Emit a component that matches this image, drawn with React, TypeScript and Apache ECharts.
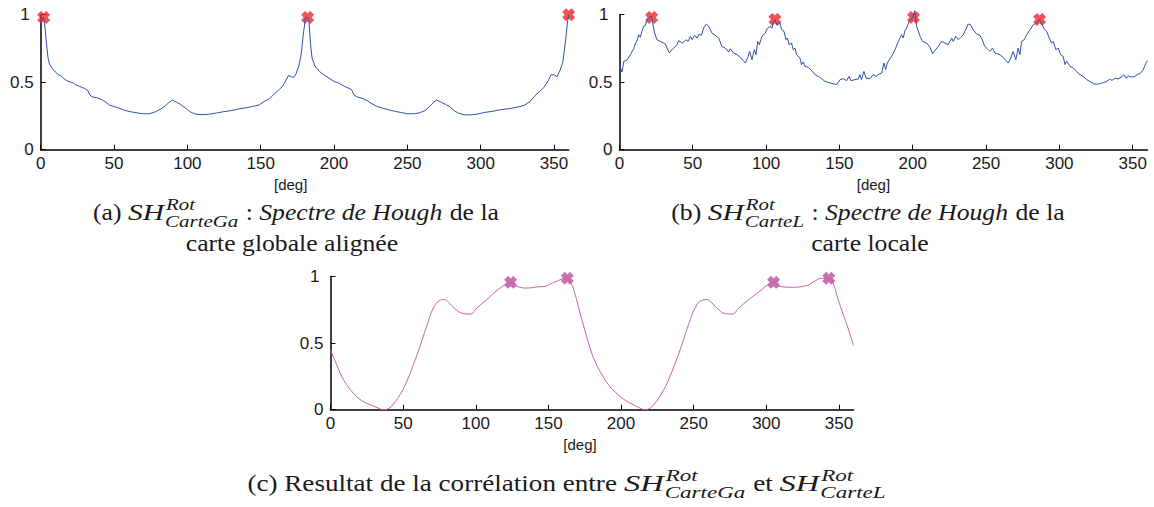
import React, { useEffect, useRef } from "react";
import * as echarts from "echarts";

// ---------- data ----------
const ticksX = [0, 50, 100, 150, 200, 250, 300, 350];

// (a) Hough spectrum of the aligned global map
const degA = [0, 2, 3, 4, 5, 6, 8, 10, 12, 14, 16, 18, 20, 22, 24, 26, 28, 30, 32, 33.5, 35, 38, 41, 44, 47, 50, 53, 57, 61, 65, 70, 74, 78, 82, 85, 87, 89.7, 92.5, 95, 97, 100, 102, 105, 108, 112, 116, 120, 125, 130, 135, 140, 145, 149, 152, 156, 159, 162, 165, 167, 169, 171, 172.5, 174, 176, 177.5, 179, 180.5, 182, 183, 184, 185, 187, 190, 193, 196, 200, 203, 207, 210, 212, 213.5, 216, 220, 223, 226, 229, 234, 238, 242, 246, 250, 254, 258, 262, 265, 268, 270, 273, 276, 279, 282, 285, 289, 293, 297, 302, 308, 314, 320, 326, 330, 334, 337, 340, 343, 346, 348, 350, 352, 354, 356, 358, 359, 360];
const valA = [0.96, 0.98, 0.9, 0.78, 0.68, 0.635, 0.6, 0.575, 0.556, 0.545, 0.525, 0.51, 0.503, 0.495, 0.48, 0.472, 0.462, 0.453, 0.44, 0.405, 0.392, 0.385, 0.375, 0.355, 0.33, 0.32, 0.31, 0.292, 0.282, 0.274, 0.266, 0.266, 0.28, 0.302, 0.325, 0.346, 0.368, 0.352, 0.338, 0.322, 0.298, 0.28, 0.266, 0.26, 0.26, 0.265, 0.272, 0.282, 0.29, 0.302, 0.31, 0.322, 0.332, 0.355, 0.378, 0.41, 0.44, 0.47, 0.51, 0.55, 0.54, 0.536, 0.56, 0.62, 0.7, 0.85, 0.975, 0.98, 0.94, 0.78, 0.68, 0.62, 0.58, 0.555, 0.535, 0.505, 0.495, 0.47, 0.455, 0.445, 0.405, 0.39, 0.378, 0.36, 0.34, 0.322, 0.305, 0.294, 0.283, 0.275, 0.266, 0.266, 0.272, 0.29, 0.318, 0.352, 0.368, 0.352, 0.336, 0.318, 0.288, 0.27, 0.258, 0.258, 0.262, 0.275, 0.284, 0.297, 0.305, 0.318, 0.33, 0.36, 0.4, 0.43, 0.46, 0.51, 0.555, 0.555, 0.54, 0.585, 0.65, 0.82, 0.93, 1.0];
const peakDegA = [2, 182, 360];
const peakValA = [0.98, 0.98, 1.0];

// (b) Hough spectrum of the local map
const degB = [0, 1, 1.8, 3, 5, 7.5, 9.7, 11, 12, 13.1, 14.3, 15.4, 16.5, 17.7, 18.8, 20.4, 21.8, 22.7, 24, 25.6, 27.9, 31.3, 34, 35.9, 39.3, 40.4, 43.1, 45.4, 46.8, 48.4, 49.5, 51.3, 52.9, 54.5, 55.9, 57.4, 59.3, 60.9, 63.1, 65.4, 67.7, 69.9, 72.2, 74.5, 75.6, 77.9, 80.2, 82.4, 84.7, 85.8, 87.6, 88.8, 90.4, 92, 93.1, 94.3, 95.4, 97.2, 99.5, 100.6, 102.9, 104, 105.2, 106.3, 107.2, 109.5, 110.6, 112.2, 113.6, 114.5, 115.8, 117.4, 118.5, 119.7, 120.8, 123.1, 124.2, 125.4, 126.5, 128.8, 131.1, 133.3, 135.6, 137.9, 140.2, 143.6, 148.2, 150.4, 152.7, 155, 156.5, 157.9, 160.6, 162.9, 164, 165.1, 166.7, 168.1, 170.8, 173.1, 174.9, 176.4, 178.8, 180.4, 181.5, 182.7, 184, 185.6, 187.9, 190.2, 192.4, 193.5, 194.7, 195.8, 197.6, 199.9, 201.3, 202.7, 205, 206.7, 209.5, 211.7, 213.5, 215.1, 217.4, 219.7, 221.9, 224.2, 226.5, 227.6, 229.4, 231, 232.6, 234.5, 236.1, 237.8, 239.4, 241.2, 243.5, 245.8, 247.4, 249.1, 250.8, 252.6, 254.4, 256, 259.4, 261.7, 263.5, 265.1, 266.9, 268.5, 270.3, 271.9, 273.1, 274.2, 276, 277.7, 280, 282.2, 284.5, 286.4, 287.9, 289.5, 291.3, 293.1, 294.7, 295.8, 297.6, 299.3, 300.8, 302.6, 303.8, 304.9, 307.2, 309.5, 311.7, 314, 316.3, 318.5, 320.8, 323.5, 326, 328, 330, 332, 334, 336, 338, 340, 342, 344, 345.5, 347, 349, 351, 353, 355, 357, 359, 360];
const valB = [0.62, 0.6, 0.575, 0.655, 0.662, 0.704, 0.748, 0.79, 0.807, 0.852, 0.832, 0.877, 0.914, 0.92, 0.963, 0.98, 0.99, 0.938, 0.864, 0.815, 0.802, 0.783, 0.716, 0.741, 0.778, 0.807, 0.79, 0.815, 0.802, 0.84, 0.815, 0.847, 0.827, 0.857, 0.847, 0.901, 0.931, 0.914, 0.864, 0.847, 0.827, 0.765, 0.753, 0.723, 0.748, 0.716, 0.704, 0.684, 0.655, 0.642, 0.684, 0.728, 0.667, 0.741, 0.704, 0.802, 0.778, 0.84, 0.864, 0.896, 0.914, 0.9, 0.951, 0.96, 0.926, 0.938, 0.889, 0.877, 0.815, 0.827, 0.778, 0.79, 0.741, 0.753, 0.704, 0.679, 0.63, 0.65, 0.618, 0.61, 0.585, 0.556, 0.543, 0.526, 0.506, 0.494, 0.482, 0.519, 0.526, 0.511, 0.543, 0.511, 0.519, 0.524, 0.556, 0.519, 0.58, 0.531, 0.526, 0.556, 0.543, 0.556, 0.568, 0.642, 0.593, 0.642, 0.667, 0.691, 0.741, 0.802, 0.852, 0.827, 0.882, 0.901, 0.951, 0.98, 1.03, 0.914, 0.84, 0.802, 0.79, 0.76, 0.712, 0.735, 0.765, 0.802, 0.79, 0.778, 0.827, 0.802, 0.84, 0.815, 0.832, 0.852, 0.889, 0.931, 0.926, 0.889, 0.857, 0.847, 0.815, 0.765, 0.748, 0.728, 0.753, 0.716, 0.704, 0.684, 0.66, 0.642, 0.679, 0.728, 0.667, 0.753, 0.704, 0.802, 0.815, 0.852, 0.889, 0.926, 0.938, 0.965, 0.938, 0.896, 0.877, 0.827, 0.79, 0.802, 0.741, 0.753, 0.704, 0.691, 0.63, 0.655, 0.618, 0.605, 0.58, 0.556, 0.543, 0.519, 0.506, 0.487, 0.485, 0.49, 0.497, 0.505, 0.52, 0.515, 0.53, 0.525, 0.535, 0.555, 0.53, 0.545, 0.54, 0.54, 0.555, 0.565, 0.59, 0.64, 0.66];
const peakDegB = [22, 106, 200.5, 286.5];
const peakValB = [0.98, 0.965, 0.98, 0.965];

// (c) correlation result
const degC = [0, 4.2, 7.7, 11.1, 15.7, 21.5, 27.2, 32.9, 36.4, 39.8, 43.3, 47.9, 52.5, 57.1, 61.6, 66.2, 70.8, 74.9, 78.2, 81.1, 85.7, 90.3, 96.1, 100.7, 107.5, 114.4, 120.2, 123.6, 128.2, 135.1, 142, 147.7, 151.2, 154.6, 162.6, 164.9, 168.4, 171.8, 175.3, 178.7, 182.1, 186.8, 191.3, 195.9, 201.7, 207.4, 213.1, 216.6, 220, 223.5, 228.1, 232.7, 237.3, 241.9, 246.5, 251.2, 255.3, 259.1, 262.5, 267.2, 271.8, 276.4, 281, 287.9, 294.8, 300.5, 305.1, 309, 317, 327.5, 332.8, 338, 343.4, 346, 348.7, 352.6, 356.6, 360];
const valC = [0.45, 0.338, 0.25, 0.188, 0.125, 0.068, 0.038, 0.012, 0.0, 0.008, 0.043, 0.113, 0.213, 0.338, 0.475, 0.625, 0.762, 0.817, 0.825, 0.807, 0.757, 0.725, 0.717, 0.762, 0.825, 0.892, 0.937, 0.955, 0.925, 0.912, 0.92, 0.925, 0.942, 0.957, 0.987, 0.967, 0.862, 0.725, 0.588, 0.463, 0.363, 0.263, 0.188, 0.133, 0.08, 0.043, 0.012, 0.0, 0.012, 0.05, 0.125, 0.225, 0.35, 0.488, 0.638, 0.767, 0.817, 0.825, 0.8, 0.75, 0.72, 0.717, 0.762, 0.825, 0.882, 0.932, 0.952, 0.925, 0.918, 0.93, 0.96, 0.985, 0.985, 0.95, 0.85, 0.725, 0.6, 0.48];
const peakDegC = [124, 163, 305, 343];
const peakValC = [0.955, 0.985, 0.955, 0.985];

const xName = "[deg]";

// ---------- captions ----------
type Seg = { t?: string; it?: boolean; math?: boolean; sup?: string; sub?: string };

const captionA1: Seg[] = [{ t: "(a) " }, { t: "SH", it: true, math: true }, { sup: "Rot", sub: "CarteGa" }, { t: " : " }, { t: "Spectre de Hough", it: true }, { t: " de la" }];
const captionA2: Seg[] = [{ t: "carte globale alignée" }];
const captionB1: Seg[] = [{ t: "(b) " }, { t: "SH", it: true, math: true }, { sup: "Rot", sub: "CarteL" }, { t: " : " }, { t: "Spectre de Hough", it: true }, { t: " de la" }];
const captionB2: Seg[] = [{ t: "carte locale" }];
const captionC: Seg[] = [{ t: "(c) Resultat de la corrélation entre " }, { t: "SH", it: true, math: true }, { sup: "Rot", sub: "CarteGa" }, { t: " et " }, { t: "SH", it: true, math: true }, { sup: "Rot", sub: "CarteL" }];

const SERIF = "'Liberation Serif', serif";
const SANS = "'Liberation Sans', sans-serif";

function layoutLine(segs: Seg[], cx: number, baseline: number, size: number, small: number, sx: number, mathSx: number) {
  const canvas = document.createElement("canvas");
  const ctx = canvas.getContext("2d")!;
  const fontOf = (it: boolean, s: number) => `${it ? "italic " : ""}${s}px ${SERIF}`;
  const measure = (t: string, f: string) => {
    ctx.font = f;
    return ctx.measureText(t).width;
  };
  const items: { text: string; x: number; base: number; font: string; s: number; k: number }[] = [];
  let x = 0;
  for (const seg of segs) {
    if (seg.sup !== undefined) {
      const f = fontOf(true, small);
      const k = sx * mathSx;
      const w1 = measure(seg.sup, f) * k;
      const w2 = measure(seg.sub || "", f) * k;
      items.push({ text: seg.sup, x: x + 1, base: baseline - 0.42 * size, font: f, s: small, k });
      items.push({ text: seg.sub || "", x: x, base: baseline + 0.3 * size, font: f, s: small, k });
      x += Math.max(w1 + 1, w2) + 1;
    } else {
      const f = fontOf(!!seg.it, size);
      const k = seg.math ? sx * mathSx : sx;
      const w = measure(seg.t || "", f) * k;
      items.push({ text: seg.t || "", x, base: baseline, font: f, s: size, k });
      x += w + (seg.it ? 1 : 0);
    }
  }
  const off = cx - x / 2;
  return items.map((it) => ({
    type: "text",
    x: off + it.x,
    y: it.base - 0.34 * it.s,
    scaleX: it.k,
    silent: true,
    style: {
      text: it.text,
      font: it.font,
      fill: "#1a1a1a",
      align: "left",
      verticalAlign: "middle",
      textAlign: "left",
      textVerticalAlign: "middle",
    },
  }));
}

const XMARK = "path://M0,3 L3,0 L5,2 L7,0 L10,3 L8,5 L10,7 L7,10 L5,8 L3,10 L0,7 L2,5 Z";

function xAxisFor(gridIndex: number, nameShift: number) {
  return {
    type: "value",
    gridIndex,
    min: 0,
    max: 360,
    interval: 50,
    name: xName,
    nameLocation: "middle",
    nameGap: 27,
    nameTextStyle: { fontSize: 15, fontFamily: SANS, color: "#1a1a1a", padding: [0, nameShift * 2, 0, 0] },
    axisLine: { show: true, onZero: false, lineStyle: { color: "#000", width: 1.5 } },
    axisTick: { show: true, inside: true, length: 5, customValues: ticksX, lineStyle: { color: "#000", width: 1 } },
    axisLabel: { customValues: ticksX, fontSize: 17, fontFamily: SANS, color: "#1a1a1a", margin: 5 },
    splitLine: { show: false },
  };
}

function yAxisFor(gridIndex: number) {
  return {
    type: "value",
    gridIndex,
    min: 0,
    max: 1,
    interval: 0.5,
    axisLine: { show: true, lineStyle: { color: "#000", width: 1.5 } },
    axisTick: { show: true, inside: true, length: 5, lineStyle: { color: "#000", width: 1 } },
    axisLabel: {
      fontSize: 17,
      fontFamily: SANS,
      color: "#1a1a1a",
      margin: 7,
      formatter: (v: number) => (v === 1 ? "{one|1}" : String(v)),
      rich: { one: { fontSize: 17, fontFamily: SANS, color: "#1a1a1a", padding: [0, 4, 0, 0] } },
    },
    splitLine: { show: false },
  };
}

function pairs(xs: number[], ys: number[]) {
  return xs.map((x, i) => [x, ys[i]]);
}

export default function App() {
  const ref = useRef<HTMLDivElement>(null);
  useEffect(() => {
    document.body.style.margin = "0";
    if (!ref.current) return;
    const chart = echarts.init(ref.current, undefined, { renderer: "svg" });
    const blue = "#2f52a8";
    const red = "#f0262a";
    const pink = "#cf5aad";
    const pinkMark = "#bb4f9c";
    const F = 24;
    const f = 17;
    const SX = 1.07;
    const MSX = 1.15;
    const graphics = [
      ...layoutLine(captionA1, 296, 220, F, f, SX, MSX),
      ...layoutLine(captionA2, 292, 251, F, f, SX, MSX),
      ...layoutLine(captionB1, 868, 220, F, f, SX, MSX),
      ...layoutLine(captionB2, 870, 251, F, f, SX, MSX),
      ...layoutLine(captionC, 567, 491, F, f, 1.13, 1.2),
    ];
    chart.setOption({
      animation: false,
      backgroundColor: "#ffffff",
      grid: [
        { left: 40.7, top: 14.7, width: 528, height: 135 },
        { left: 619.4, top: 14.7, width: 528, height: 135 },
        { left: 330.5, top: 276.3, width: 523, height: 133.4 },
      ],
      xAxis: [xAxisFor(0, 14), xAxisFor(1, 10), xAxisFor(2, 12)],
      yAxis: [yAxisFor(0), yAxisFor(1), yAxisFor(2)],
      series: [
        { type: "line", xAxisIndex: 0, yAxisIndex: 0, data: pairs(degA, valA), showSymbol: false, clip: false, lineStyle: { color: blue, width: 1 }, smooth: false },
        { type: "scatter", xAxisIndex: 0, yAxisIndex: 0, data: pairs(peakDegA, peakValA), symbol: XMARK, symbolSize: 13, clip: false, itemStyle: { color: red } },
        { type: "line", xAxisIndex: 1, yAxisIndex: 1, data: pairs(degB, valB), showSymbol: false, clip: false, lineStyle: { color: blue, width: 1 }, smooth: false },
        { type: "scatter", xAxisIndex: 1, yAxisIndex: 1, data: pairs(peakDegB, peakValB), symbol: XMARK, symbolSize: 13, clip: false, itemStyle: { color: red } },
        { type: "line", xAxisIndex: 2, yAxisIndex: 2, data: pairs(degC, valC), showSymbol: false, clip: false, lineStyle: { color: pink, width: 1 }, smooth: 0.5 },
        { type: "scatter", xAxisIndex: 2, yAxisIndex: 2, data: pairs(peakDegC, peakValC), symbol: XMARK, symbolSize: 13, clip: false, itemStyle: { color: pinkMark } },
      ],
      graphic: graphics,
    });
    return () => chart.dispose();
  }, []);
  return <div ref={ref} style={{ position: "absolute", left: 0, top: 0, width: 1154, height: 507 }} />;
}
